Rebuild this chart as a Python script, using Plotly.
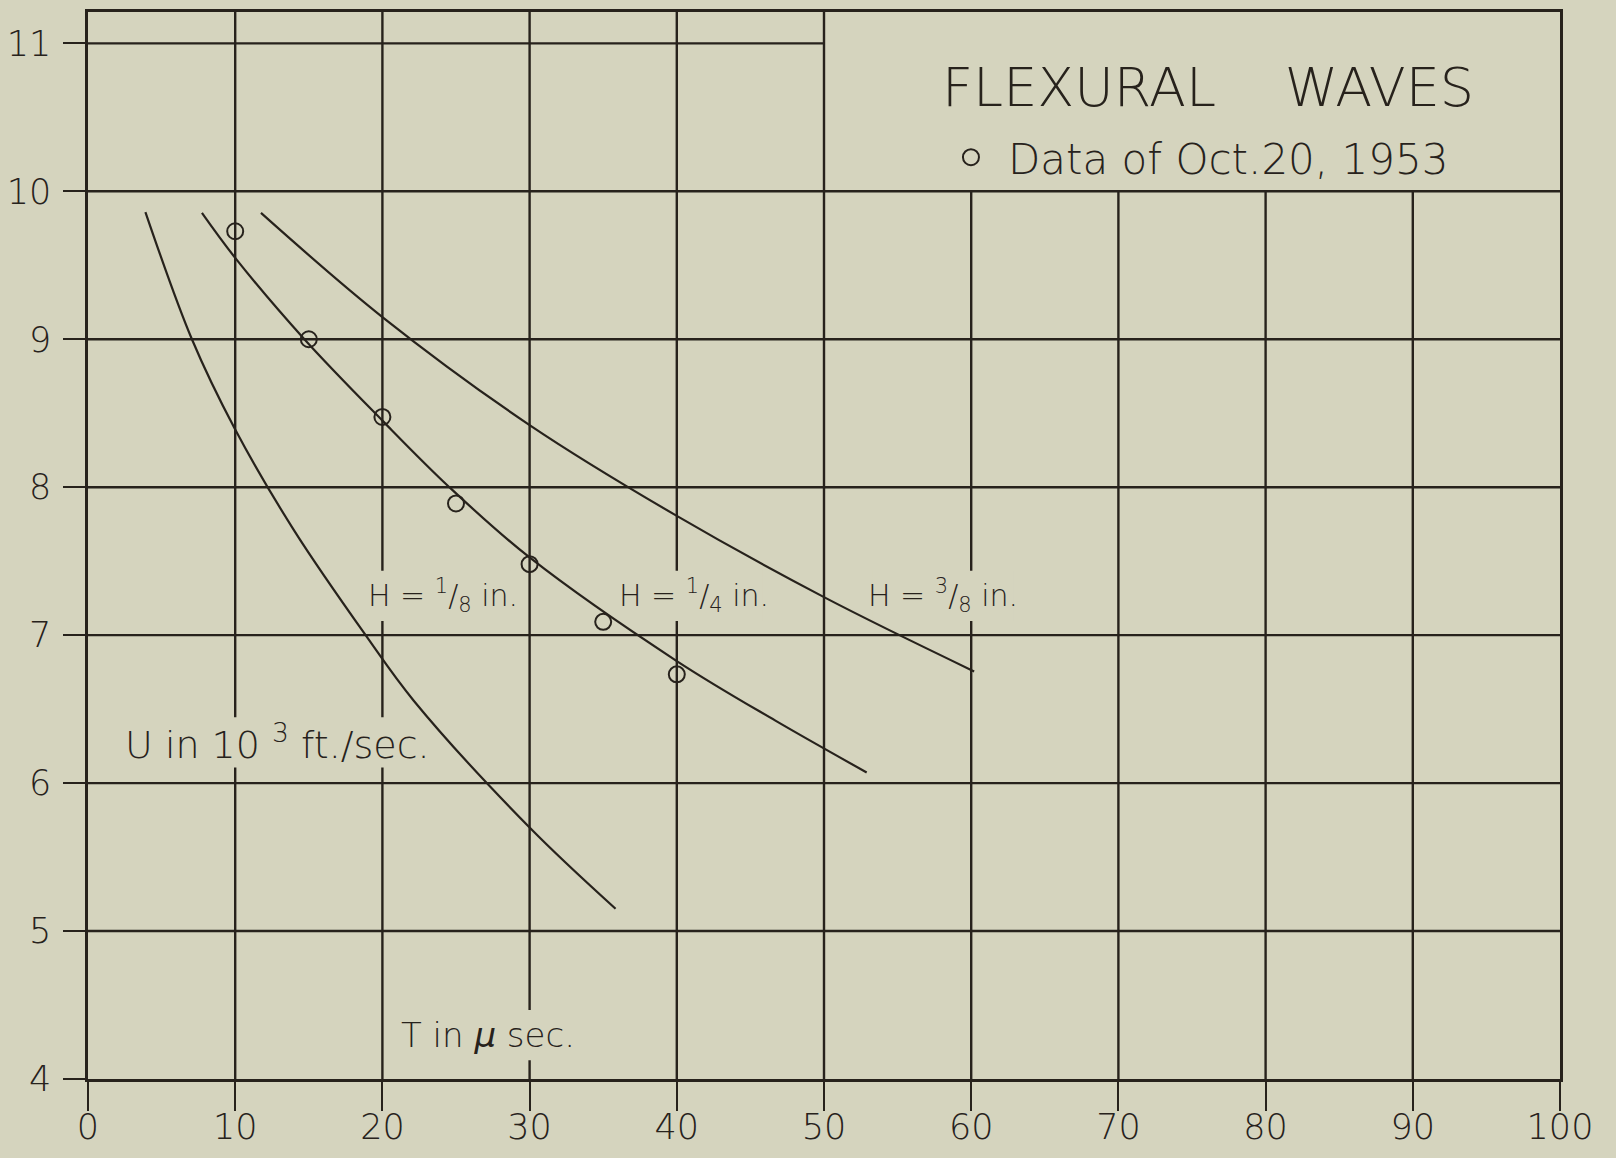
import plotly.graph_objects as go

# ---------------- data ----------------
# H = 1/8 in. curve
t_h18 = [3.9, 7.06, 10.0, 14.02, 18.86, 22.13, 30.0, 35.84]
u_h18 = [9.86, 9.0, 8.39, 7.705, 7.0, 6.557, 5.70, 5.151]
# H = 1/4 in. curve
t_h14 = [7.74, 10.0, 14.7, 20.0, 24.55, 30.0, 40.0, 46.7, 52.9]
u_h14 = [9.854, 9.55, 9.0, 8.45, 8.0, 7.525, 6.825, 6.422, 6.072]
# H = 3/8 in. curve
t_h38 = [11.75, 20.0, 30.0, 40.0, 50.0, 60.2]
u_h38 = [9.854, 9.15, 8.42, 7.806, 7.257, 6.755]
# measured points, Oct. 20, 1953
t_data = [10, 15, 20, 25, 30, 35, 40]
u_data = [9.73, 9.0, 8.475, 7.89, 7.48, 7.09, 6.735]

x_ticks = [0, 10, 20, 30, 40, 50, 60, 70, 80, 90, 100]
y_ticks = [4, 5, 6, 7, 8, 9, 10, 11]
x_range = [0, 100]
y_range = [4, 11.212]

# ---------------- style ----------------
BG = "#d5d4be"
INK = "#27221c"
FONT = "DejaVu Sans"
WEIGHT = 300

def f(size):
    return dict(family=FONT, size=size, color=INK, weight=WEIGHT)

fig = go.Figure()

for t, u in [(t_h18, u_h18), (t_h14, u_h14), (t_h38, u_h38)]:
    fig.add_trace(go.Scatter(
        x=t, y=u, mode="lines", showlegend=False, hoverinfo="skip",
        line=dict(color=INK, width=2.2, shape="spline", smoothing=1.0)))

fig.add_trace(go.Scatter(
    x=t_data, y=u_data, mode="markers", name="Data of Oct.20, 1953",
    showlegend=True,
    marker=dict(symbol="circle-open", size=16, color=INK, line=dict(width=2, color=INK))))

# grid lines (title box in the upper right is left open)
shapes = []
for xv in x_ticks[1:-1]:
    top = y_range[1] if xv <= 50 else 10
    shapes.append(dict(type="line", xref="x", yref="y", x0=xv, x1=xv, y0=y_range[0], y1=top,
                       line=dict(color=INK, width=2.4), layer="below"))
for yv in y_ticks[1:]:
    right = 50 if yv == 11 else x_range[1]
    shapes.append(dict(type="line", xref="x", yref="y", x0=x_range[0], x1=right, y0=yv, y1=yv,
                       line=dict(color=INK, width=2.4), layer="below"))

# labels: (x, y, text, size, mask half-width in x units, mask half-height in y units)
labels = [
    (24.1, 7.265, "H = <sup>1</sup>/<sub>8</sub> in.", 30, 4.6, 0.17),
    (41.2, 7.265, "H = <sup>1</sup>/<sub>4</sub> in.", 30, 4.6, 0.17),
    (58.1, 7.265, "H = <sup>3</sup>/<sub>8</sub> in.", 30, 4.8, 0.17),
    (12.9, 6.275, "U in 10 <sup>3</sup> ft./sec.", 38, 10.6, 0.17),
    (27.2, 4.297, "T in <i>μ</i> sec.", 34, 6.3, 0.17),
]
annotations = []
for lx, ly, txt, sz, hw, hh in labels:
    # paper-coloured patch under the label breaks the grid lines, as on the original
    shapes.append(dict(type="rect", xref="x", yref="y", x0=lx - hw, x1=lx + hw,
                       y0=ly - hh, y1=ly + hh, fillcolor=BG, line=dict(width=0),
                       layer="below"))
    annotations.append(dict(x=lx, y=ly, text=txt, font=f(sz)))

annotations.append(dict(x=76.1, y=10.70, text="FLEXURAL\u00a0\u00a0\u00a0\u00a0WAVES", font=f(54)))
for a in annotations:
    a.update(xref="x", yref="y", showarrow=False, xanchor="center", yanchor="middle")

fig.update_layout(
    width=1616, height=1158,
    paper_bgcolor=BG, plot_bgcolor=BG,
    margin=dict(l=88, r=56, t=12, b=79, autoexpand=False),
    shapes=shapes, annotations=annotations,
    font=f(35),
    legend=dict(x=0.5747, y=0.8637, xref="paper", yref="paper", xanchor="left", yanchor="middle",
                bgcolor="rgba(0,0,0,0)", borderwidth=0, font=f(42), itemwidth=64),
    xaxis=dict(range=x_range, tickvals=x_ticks, ticks="outside", ticklen=29, tickwidth=2.2,
               tickcolor=INK, showline=True, mirror=True, linewidth=2.6, linecolor=INK,
               showgrid=False, zeroline=False, tickfont=f(35),
               ticklabelstandoff=-14, fixedrange=True),
    yaxis=dict(range=y_range, tickvals=y_ticks, ticks="outside", ticklen=22, tickwidth=2.2,
               tickcolor=INK, showline=True, mirror=True, linewidth=2.6, linecolor=INK,
               showgrid=False, zeroline=False, tickfont=f(35),
               ticklabelstandoff=5, fixedrange=True),
)

fig.write_html("out.html", config={"displayModeBar": False},
               post_script="document.body.style.margin='0';document.body.style.padding='0';")
